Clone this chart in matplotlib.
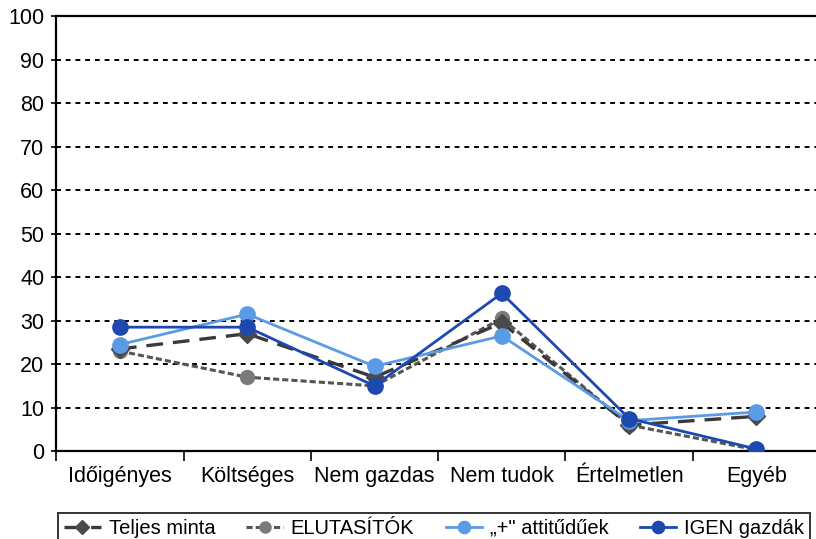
import matplotlib
matplotlib.use("Agg")
import matplotlib.pyplot as plt
import numpy as np

categories = ["Időigényes", "Költséges", "Nem gazdas", "Nem tudok", "Értelmetlen", "Egyéb"]
teljes = [23.5, 27, 17, 29.5, 6, 8]
elutasitok = [23, 17, 15, 30.5, 6, 0.3]
attitudeek = [24.5, 31.5, 19.5, 26.5, 7, 9]
igen = [28.5, 28.5, 15, 36.3, 7.5, 0.5]
yticks = [0, 10, 20, 30, 40, 50, 60, 70, 80, 90, 100]

plt.rcParams['font.family'] = ['Liberation Sans', 'DejaVu Sans']

fig = plt.figure(figsize=(8.16, 5.39), dpi=100)
ax = fig.add_axes([0.069, 0.163, 0.936, 0.807])

x = np.arange(len(categories))

ax.plot(x, elutasitok, color='#555555', lw=2.2, ls=(0, (2, 1)),
        marker='o', ms=10, mfc='#7a7a7a', mec='#7a7a7a', label='ELUTASÍTÓK', zorder=3)
ax.plot(x, teljes, color='#3a3a3a', lw=2.4, ls=(0, (5, 3)),
        marker='D', ms=9, mfc='#4a4a4a', mec='#4a4a4a', label='Teljes minta', zorder=4)
ax.plot(x, attitudeek, color='#5b9be6', lw=2.0,
        marker='o', ms=11, mfc='#5b9be6', mec='#5b9be6', label='„+" attitűdűek', zorder=5)
ax.plot(x, igen, color='#1d48b0', lw=2.0,
        marker='o', ms=11, mfc='#1d48b0', mec='#1d48b0', label='IGEN gazdák', zorder=6)

ax.set_xlim(-0.5, len(categories) - 0.5)
ax.set_ylim(0, 100)
ax.set_yticks(yticks)
ax.tick_params(axis='y', labelsize=15.5, direction='inout', length=7, width=1.2, pad=5)
ax.set_xticks(x)
ax.set_xticklabels(categories)
ax.set_xticks(np.arange(-0.5, len(categories), 1), minor=True)
ax.tick_params(axis='x', which='major', length=0, labelsize=15.5, pad=11)
ax.tick_params(axis='x', which='minor', length=7, width=1.2, direction='out')

for v in yticks[1:-1]:
    ax.axhline(v, color='black', lw=1.4, ls=(0, (2.5, 2.5)), zorder=1)

for s in ax.spines.values():
    s.set_linewidth(1.6)
ax.spines['right'].set_visible(False)

h, l = ax.get_legend_handles_labels()
order = [1, 0, 2, 3]
leg = fig.legend([h[i] for i in order], [l[i] for i in order], loc='lower left',
                 bbox_to_anchor=(0.064, -0.02), ncol=4, fontsize=14.5, frameon=True,
                 fancybox=False, edgecolor='black', handlelength=1.8, columnspacing=1.55,
                 handletextpad=0.4, borderpad=0.3, borderaxespad=0.3, markerscale=0.8)
leg.get_frame().set_linewidth(1.4)

fig.savefig("out.png", dpi=100)
